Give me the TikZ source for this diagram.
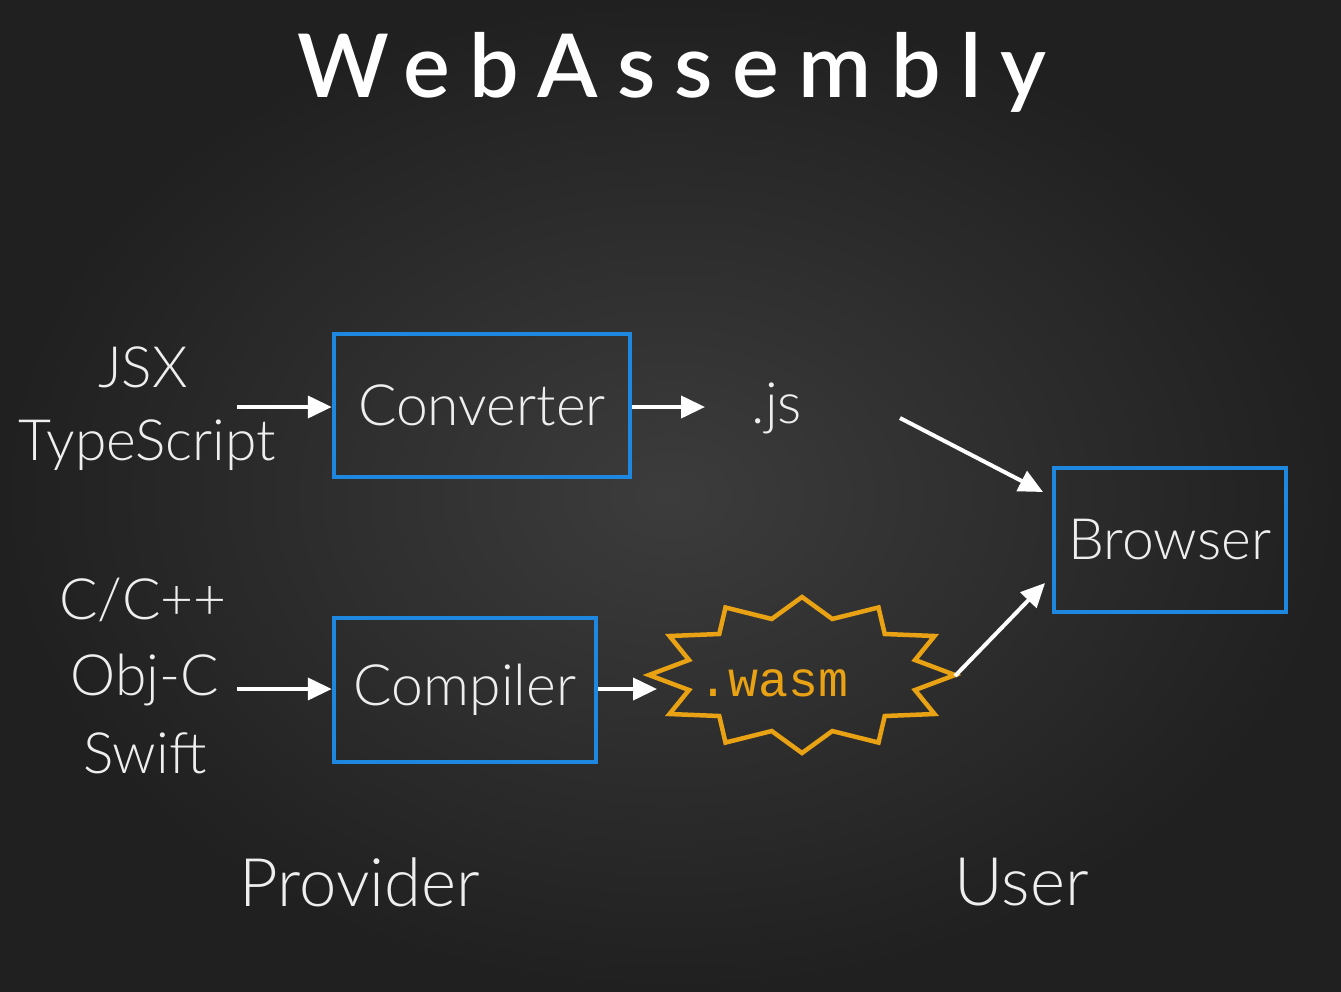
\documentclass[tikz,border=0pt]{standalone}
\usepackage{fontspec}
\setmainfont{Lato Light}
\newfontfamily\titlefont[LetterSpace=22]{Lato Semibold}
\newfontfamily\monofont{Liberation Mono}
\usetikzlibrary{arrows.meta}
\definecolor{bgin}{HTML}{3C3C3C}
\definecolor{bgout}{HTML}{202020}
\definecolor{boxblue}{HTML}{1E88E0}
\definecolor{txt}{HTML}{EEEEEE}
\definecolor{wasmorange}{HTML}{E8A214}
\tikzset{
  lbl/.style={text=txt, inner sep=0pt, font=\fontsize{57}{62}\selectfont},
  foot/.style={text=txt, inner sep=0pt, font=\fontsize{67}{72}\selectfont},
  procbox/.style={draw=boxblue, line width=4.5pt, inner sep=0pt, text=txt,
    font=\fontsize{57}{62}\selectfont},
  flow/.style={draw=white, line width=4pt, -{Triangle[length=24pt,width=22pt]}},
  burst/.style={draw=wasmorange, line width=4.5pt, line join=miter},
}
\begin{document}
\begin{tikzpicture}[x=1pt,y=-1pt]
\useasboundingbox (0,0) rectangle (1341,991);
\shade[inner color=bgin, outer color=bgout] (0,0) rectangle (1341,991);
% title
\node[text=white, inner sep=0pt, font=\titlefont\fontsize{88}{96}\selectfont] (title) at (672,72) {WebAssembly};
% inputs
\node[lbl] (jsx) at (143,367) {JSX};
\node[lbl] (ts) at (147,445) {TypeScript};
\node[lbl] (cpp) at (143,600) {C/C++};
\node[lbl] (objc) at (145,680) {Obj-C};
\node[lbl] (swift) at (145,753) {Swift};
% boxes
\node[procbox, minimum width=296pt, minimum height=143pt] (conv) at (482,405.5) {Converter};
\node[procbox, minimum width=262pt, minimum height=144pt] (comp) at (465,690) {Compiler};
\node[procbox, minimum width=232pt, minimum height=144pt] (brow) at (1170,540) {Browser};
\node[lbl] (js) at (777,408) {.js};
% starburst
\draw[burst] (955,675)
  \foreach \i in {1,...,23} { -- ({802+ifthenelse(mod(\i,2)==0,153,117)*cos(15*\i)},{675+ifthenelse(mod(\i,2)==0,78,58)*sin(15*\i)}) } -- cycle;
\node[text=wasmorange, inner sep=0pt, font=\monofont\fontsize{50}{54}\selectfont] (wasm) at (774,683) {.wasm};
\coordinate (wasmL) at (657,689);
\coordinate (wasmR) at (955,676);
\coordinate (jsxA) at (237,407);
\coordinate (objA) at (237,689);
\coordinate (jsA) at (900,418);
\coordinate (jsB) at (705,407);
% arrows
\draw[flow] (jsxA) -- (jsxA -| conv.west);
\draw[flow] (conv.east |- jsB) -- (jsB);
\draw[flow] (jsA) -- (1043,492);
\draw[flow] (objA) -- (objA -| comp.west);
\draw[flow] (comp.east |- wasmL) -- (wasmL);
\draw[flow] (wasmR) -- (1045,583);
% footer
\node[foot] (prov) at (360,882) {Provider};
\node[foot] (user) at (1022,882) {User};
\end{tikzpicture}
\end{document}
